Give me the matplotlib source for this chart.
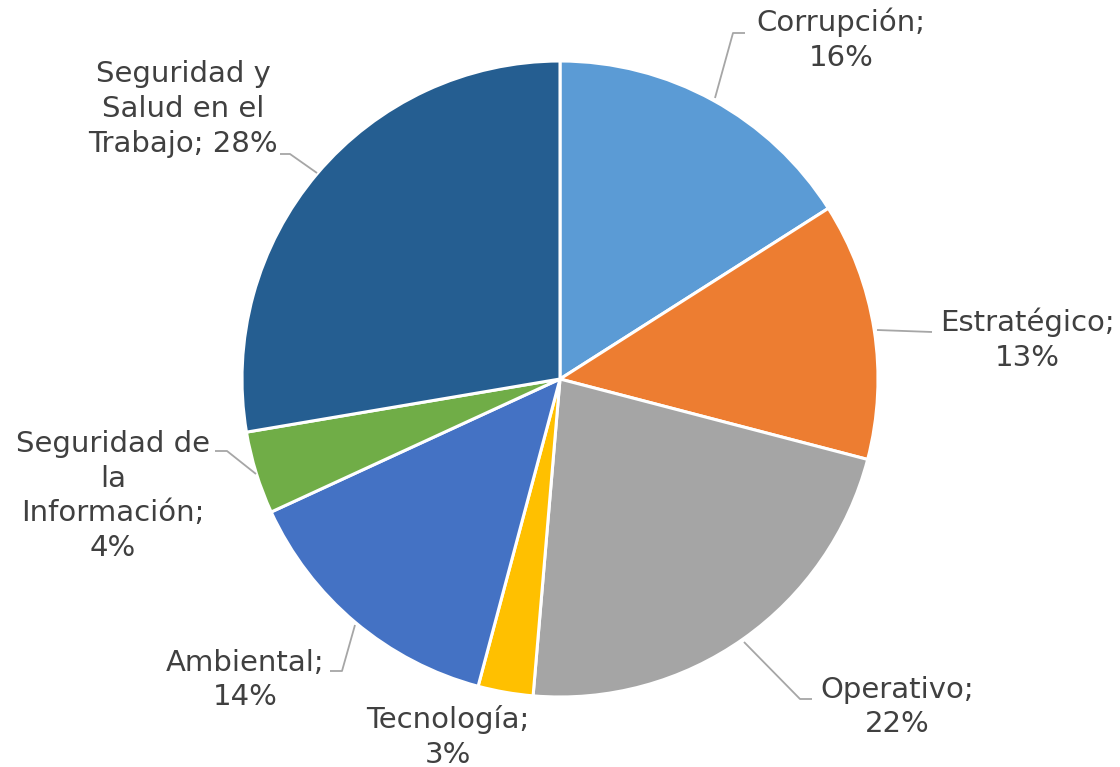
import matplotlib
matplotlib.use("Agg")
import matplotlib.pyplot as plt

categories = ["Corrupción", "Estratégico", "Operativo", "Tecnología", "Ambiental",
              "Seguridad de la Información", "Seguridad y Salud en el Trabajo"]
values = [16.0, 13.1, 22.3, 2.8, 14.0, 4.2, 27.7]
label_text = ["Corrupción;\n16%", "Estratégico;\n13%", "Operativo;\n22%", "Tecnología;\n3%",
              "Ambiental;\n14%", "Seguridad de\nla\nInformación;\n4%",
              "Seguridad y\nSalud en el\nTrabajo; 28%"]
colors = ["#5B9BD5", "#ED7D31", "#A5A5A5", "#FFC000", "#4472C4", "#70AD47", "#255E91"]

W, H = 1120, 767
CX, CY, R = 560, 379, 318

def p2d(px, py):
    return ((px - CX) / R, (CY - py) / R)

# label centers (pixels) and leader polylines (pixels)
label_pos = [(841, 40), (1027, 340), (897, 707), (448, 737), (245, 680), (113, 496), (183, 109)]
leaders = [
    [(745, 33), (733, 33), (715, 98)],
    [(932, 332), (877, 330)],
    [(812, 699), (800, 699), (744, 642)],
    None,
    [(330, 671), (342, 671), (355, 625)],
    [(215, 451), (227, 451), (256, 474)],
    [(280, 154), (290, 154), (317, 173)],
]

fig = plt.figure(figsize=(W / 100, H / 100), dpi=100)
ax = fig.add_axes([0, 0, 1, 1])
ax.pie(values, colors=colors, startangle=90, counterclock=False, radius=1,
       wedgeprops=dict(edgecolor="white", linewidth=2.2))
x0, y1 = p2d(0, 0)
x1, y0 = p2d(W, H)
ax.set_xlim(x0, x1)
ax.set_ylim(y0, y1)
ax.set_aspect("equal")
ax.axis("off")

for txt, (px, py), ld in zip(label_text, label_pos, leaders):
    x, y = p2d(px, py)
    ax.text(x, y, txt, ha="center", va="center", fontsize=21, color="#404040",
            linespacing=1.3, family="DejaVu Sans")
    if ld:
        pts = [p2d(a, b) for a, b in ld]
        ax.plot([p[0] for p in pts], [p[1] for p in pts], color="#A6A6A6", lw=1.3,
                solid_capstyle="butt")

fig.savefig("out.png", dpi=100)
